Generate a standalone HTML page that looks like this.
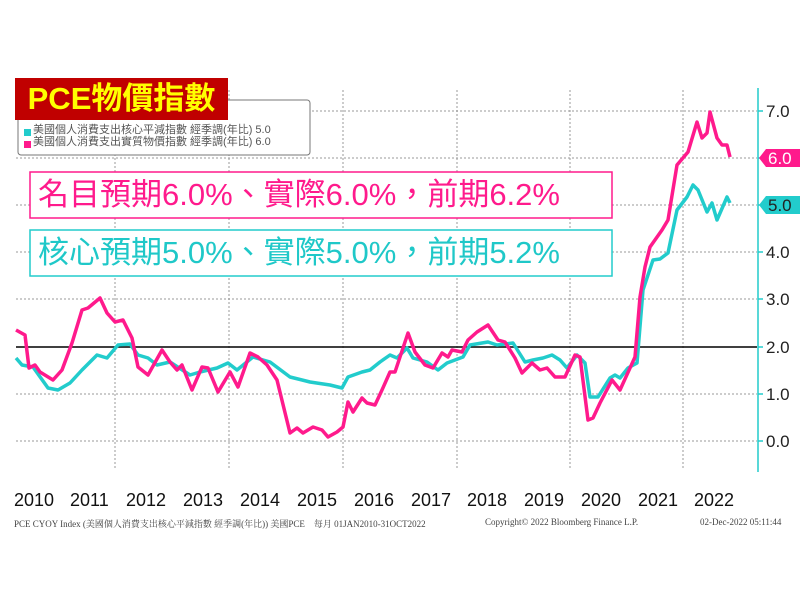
<!DOCTYPE html>
<html><head><meta charset="utf-8"><style>
body{margin:0;background:#fff;width:800px;height:600px;overflow:hidden;position:relative;font-family:"Liberation Sans","Noto Sans CJK TC",sans-serif}
.t{position:absolute}
</style></head><body>
<svg width="800" height="600" style="position:absolute;left:0;top:0">
<g stroke="#999" stroke-dasharray="2,2" stroke-width="1">
<line x1="16" x2="757" y1="111" y2="111"/><line x1="16" x2="757" y1="158" y2="158"/>
<line x1="16" x2="757" y1="205" y2="205"/><line x1="16" x2="757" y1="252" y2="252"/>
<line x1="16" x2="757" y1="299" y2="299"/><line x1="16" x2="757" y1="394" y2="394"/>
<line x1="16" x2="757" y1="441" y2="441"/>
<line x1="115" x2="115" y1="90" y2="470"/><line x1="229" x2="229" y1="90" y2="470"/>
<line x1="343" x2="343" y1="90" y2="470"/><line x1="457" x2="457" y1="90" y2="470"/>
<line x1="570" x2="570" y1="90" y2="470"/><line x1="683" x2="683" y1="90" y2="470"/>
</g>
<line x1="16" x2="757" y1="347" y2="347" stroke="#000" stroke-width="1.5"/>
<line x1="758" x2="758" y1="88" y2="472" stroke="#2cc" stroke-width="1.5"/>
<g stroke="#2cc" stroke-width="1.5">
<line x1="758" x2="763" y1="111" y2="111"/><line x1="758" x2="763" y1="158" y2="158"/><line x1="758" x2="763" y1="205" y2="205"/><line x1="758" x2="763" y1="252" y2="252"/><line x1="758" x2="763" y1="299" y2="299"/><line x1="758" x2="763" y1="347" y2="347"/><line x1="758" x2="763" y1="394" y2="394"/><line x1="758" x2="763" y1="441" y2="441"/>
</g>
<polyline fill="none" stroke="#22cccc" stroke-width="3.5" stroke-linejoin="round" points="16,358 22,365 33,367 48,388 58,390 70,383 82,370 97,355 107,358 118,345 130,344 138,355 148,358 157,365 170,362 190,375 200,372 217,368 228,363 237,370 253,357 270,362 290,377 310,382 330,385 342,388 348,377 362,372 370,370 380,362 390,355 397,358 407,348 413,358 427,362 438,370 447,363 463,357 470,345 488,342 497,345 513,343 525,362 533,360 543,358 552,355 560,360 567,368 577,355 585,363 590,397 598,397 610,378 615,375 620,378 628,368 637,363 643,290 653,260 660,259 668,253 677,210 687,197 693,185 698,190 707,212 712,203 717,220 727,197 730,203"/>
<polyline fill="none" stroke="#ff1a8c" stroke-width="3.5" stroke-linejoin="round" points="16,330 25,335 29,368 35,365 40,372 53,380 62,370 72,343 82,310 88,308 100,298 107,313 115,322 123,320 132,338 138,367 148,375 162,350 170,362 177,370 182,365 192,390 202,367 208,368 218,392 230,372 238,387 250,353 258,357 267,365 277,380 290,433 297,428 303,433 313,427 322,430 328,437 337,432 343,427 348,402 353,412 362,398 367,403 375,405 382,390 390,372 395,372 408,333 415,352 425,365 433,368 442,353 448,357 452,350 462,352 468,340 477,332 488,325 498,340 505,342 515,358 522,373 532,363 540,370 547,368 555,377 565,377 575,355 580,357 588,420 593,418 600,403 612,380 620,390 635,357 640,297 645,267 650,247 662,230 668,220 677,165 688,152 697,122 702,138 707,133 710,112 717,138 722,145 727,145 730,157"/>
<polygon points="759,158 766,149 800,149 800,167 766,167" fill="#ff1a8c"/>
<polygon points="759,205 766,196 800,196 800,214 766,214" fill="#22cccc"/>
<g font-family="Liberation Sans,sans-serif" font-size="17" fill="#222">
<text x="766" y="117">7.0</text><text x="766" y="258">4.0</text><text x="766" y="305">3.0</text><text x="766" y="353">2.0</text><text x="766" y="400">1.0</text><text x="766" y="447">0.0</text>
<text x="768" y="164" fill="#fff">6.0</text><text x="768" y="211">5.0</text>
</g>
<rect x="18" y="100" width="292" height="55" rx="3" fill="#fff" stroke="#777"/>
<rect x="30" y="172" width="582" height="46" fill="#fff" stroke="#ff1a8c" stroke-width="1.5"/>
<rect x="30" y="230" width="582" height="46" fill="#fff" stroke="#22cccc" stroke-width="1.5"/>
<rect x="24" y="129" width="7" height="7" fill="#2cc"/><rect x="24" y="141" width="7" height="7" fill="#ff1a8c"/>
</svg>
<div class="t" style="left:33px;top:124px;font-size:11px;color:#555;line-height:12px;white-space:nowrap">美國個人消費支出核心平減指數 經季調(年比) 5.0<br>美國個人消費支出實質物價指數 經季調(年比) 6.0</div>
<div class="t" style="left:15px;top:78px;width:213px;height:42px;background:#c00000;color:#ffff00;font-weight:bold;font-size:31px;line-height:42px;text-align:center;white-space:nowrap">PCE物價指數</div>
<div class="t" style="left:38px;top:174px;font-size:31px;color:#ff1a8c;line-height:42px;white-space:nowrap">名目預期6.0%、實際6.0%，前期6.2%</div>
<div class="t" style="left:38px;top:232px;font-size:31px;color:#1fc8c8;line-height:42px;white-space:nowrap">核心預期5.0%、實際5.0%，前期5.2%</div>
<div class="t" style="left:0;top:490px;font-size:18px;color:#111;white-space:nowrap">
<span class="t" style="left:14px">2010</span><span class="t" style="left:70px">2011</span><span class="t" style="left:126px">2012</span><span class="t" style="left:183px">2013</span><span class="t" style="left:240px">2014</span><span class="t" style="left:297px">2015</span><span class="t" style="left:354px">2016</span><span class="t" style="left:411px">2017</span><span class="t" style="left:467px">2018</span><span class="t" style="left:524px">2019</span><span class="t" style="left:581px">2020</span><span class="t" style="left:638px">2021</span><span class="t" style="left:694px">2022</span></div>
<div class="t" style="left:14px;top:517px;font-family:'Liberation Serif','Noto Serif CJK SC',serif;font-size:9px;color:#444;white-space:nowrap">PCE CYOY Index (美國個人消費支出核心平減指數 經季調(年比)) 美國PCE　每月 01JAN2010-31OCT2022</div>
<div class="t" style="left:485px;top:517px;font-family:'Liberation Serif',serif;font-size:9px;color:#444;white-space:nowrap">Copyright© 2022 Bloomberg Finance L.P.</div>
<div class="t" style="left:700px;top:517px;font-family:'Liberation Serif',serif;font-size:9px;color:#444;white-space:nowrap">02-Dec-2022 05:11:44</div>
</body></html>
